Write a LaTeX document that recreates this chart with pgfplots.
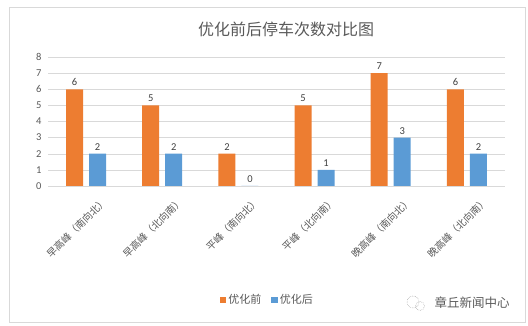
\documentclass[border=0pt]{standalone}
\usepackage{fontspec}
\usepackage{pgfplots}
\pgfplotsset{compat=1.18}
\setmainfont{Carlito}
\newfontfamily\cjk{Noto Sans CJK SC}
\definecolor{cOrange}{HTML}{ED7D31}
\definecolor{cBlue}{HTML}{5B9BD5}
\definecolor{cText}{HTML}{595959}
\definecolor{cGrid}{HTML}{D9D9D9}
\begin{document}
\begin{tikzpicture}[x=1pt,y=1pt]
\useasboundingbox (0,0) rectangle (528,326);
\draw[cGrid] (9,4) rectangle (525,319);
\node[font=\cjk\fontsize{16}{18}\selectfont, text=cText] at (286,297) {优化前后停车次数对比图};
\begin{axis}[
  at={(48pt,140pt)}, anchor=south west,
  scale only axis, width=457pt, height=129pt,
  ybar, bar width=17pt, ybar=6pt,
  ymin=0, ymax=8, ytick={0,1,...,8},
  xmin=-0.5, xmax=5.5, xtick={0,...,5},
  xticklabels={早高峰（南向北）,早高峰（北向南）,平峰（南向北）,平峰（北向南）,晚高峰（南向北）,晚高峰（北向南）},
  x tick label style={rotate=45, anchor=north east, font=\cjk\fontsize{10}{12}\selectfont, text=cText, inner sep=0pt, yshift=-18pt, xshift=4pt},
  y tick label style={font=\fontsize{10.5}{12}\selectfont, text=cText, xshift=-3pt},
  /pgf/number format/assume math mode=true,
  ymajorgrids, grid style={cGrid},
  axis line style={draw=none},
  major tick length=0pt,
  nodes near coords,
  nodes near coords style={font=\fontsize{10.5}{12}\selectfont, text=black!75},
  legend style={at={(0.48,-0.884)}, anchor=center, draw=none, legend columns=2,
    font=\cjk\fontsize{11}{13}\selectfont, text=cText,
    /tikz/every even column/.append style={column sep=8pt}},
  legend image code/.code={\fill[#1] (0pt,-3.2pt) rectangle (6.5pt,3.2pt);},
]
\addplot[fill=cOrange, draw=none] coordinates {(0,6) (1,5) (2,2) (3,5) (4,7) (5,6)};
\addplot[fill=cBlue, draw=none] coordinates {(0,2) (1,2) (2,0) (3,1) (4,3) (5,2)};
\legend{优化前,优化后}
\end{axis}
\draw[gray!60, densely dotted, line width=0.6pt] (413,24) circle (6);
\draw[gray!60, densely dotted, line width=0.6pt] (420,20) circle (4.5);
\node[font=\cjk\fontsize{12.5}{14}\selectfont, text=cText, anchor=west] at (431,23) {章丘新闻中心};
\end{tikzpicture}
\end{document}
